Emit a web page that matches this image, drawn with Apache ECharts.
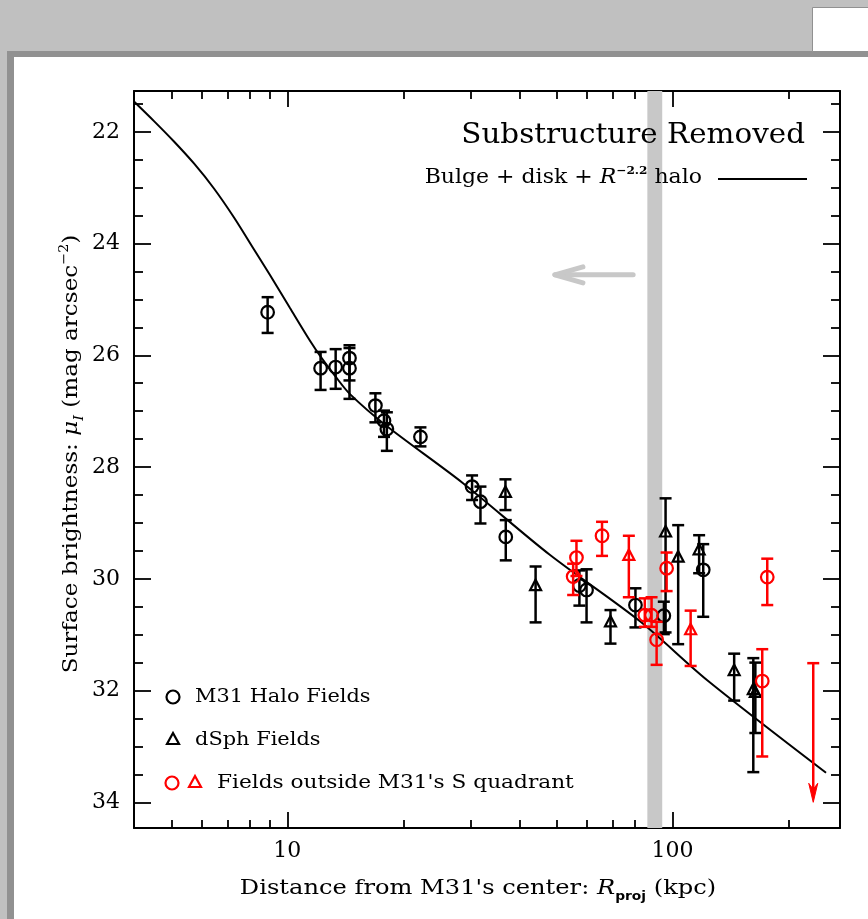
<!DOCTYPE html>
<html><head><meta charset="utf-8">
<script src="https://cdn.jsdelivr.net/npm/echarts@6/dist/echarts.min.js"></script>
<style>html,body{margin:0;padding:0;background:#fff}#c{width:868px;height:919px}</style>
</head><body><div id="c"></div><script>
// ---------------- data ----------------
const xRange = [4, 272];
const yRange = [21.27, 34.46];
const xMajorTicks = [10, 100];
const xMinorTicks = [5, 6, 7, 8, 9, 20, 30, 40, 50, 60, 70, 80, 90, 200];
const yMajorTicks = [22, 24, 26, 28, 30, 32, 34];
const yMinorTicks = [21.5, 22.5, 23, 23.5, 24.5, 25, 25.5, 26.5, 27, 27.5, 28.5, 29, 29.5, 30.5, 31, 31.5, 32.5, 33, 33.5];

// model curve: Bulge + disk + R^-2.2 halo
const modelR  = [4.0, 4.508, 5.08, 5.724, 6.451, 7.272, 8.196, 9.016, 10.162, 11.43, 12.28, 13.27, 14.52, 18.11, 28.53, 48.0, 82.3, 122.8, 250.2];
const modelMu = [21.458, 21.809, 22.174, 22.567, 23.015, 23.534, 24.107, 24.563, 25.154, 25.73, 26.05, 26.36, 26.69, 27.266, 28.285, 29.57, 30.76, 31.81, 33.47];

// M31 halo fields (black circles): R, mu, mu_bright, mu_faint
const haloR   = [8.89, 12.2, 13.35, 14.5, 14.5, 16.93, 17.82, 18.13, 22.16, 30.17, 31.72, 36.9, 57.3, 59.8, 80.1, 94.9, 120.1];
const haloMu  = [25.23, 26.23, 26.21, 26.05, 26.23, 26.90, 27.17, 27.32, 27.46, 28.35, 28.62, 29.25, 30.12, 30.20, 30.47, 30.66, 29.84];
const haloLo  = [24.96, 25.94, 25.89, 25.82, 25.87, 26.68, 26.99, 27.02, 27.29, 28.15, 28.35, 28.95, 29.85, 29.83, 30.17, 30.41, 29.38];
const haloHi  = [25.60, 26.62, 26.60, 26.45, 26.78, 27.20, 27.46, 27.71, 27.63, 28.59, 29.01, 29.67, 30.48, 30.78, 30.87, 30.99, 30.68];

// dSph fields (black triangles)
const dsphR   = [36.83, 44.1, 69.0, 95.9, 103.4, 117.2, 144.5, 162, 164];
const dsphMu  = [28.47, 30.14, 30.79, 29.18, 29.63, 29.50, 31.66, 32.00, 32.05];
const dsphLo  = [28.22, 29.78, 30.56, 28.56, 29.04, 29.22, 31.34, 31.42, 31.50];
const dsphHi  = [28.77, 30.78, 31.16, 30.96, 31.17, 29.90, 32.18, 33.46, 32.76];

// fields outside S quadrant: circles (red)
const outCR   = [56.3, 55.2, 65.6, 84.7, 88.2, 90.9, 96.5, 176.1, 170.9];
const outCMu  = [29.62, 29.96, 29.23, 30.65, 30.65, 31.09, 29.81, 29.97, 31.83];
const outCLo  = [29.32, 29.73, 28.98, 30.35, 30.33, 30.77, 29.53, 29.64, 31.26];
const outCHi  = [29.95, 30.29, 29.59, 30.86, 30.86, 31.54, 30.22, 30.47, 33.18];

// fields outside S quadrant: triangles (red)
const outTR   = [77.0, 111.4];
const outTMu  = [29.60, 30.93];
const outTLo  = [29.23, 30.57];
const outTHi  = [30.33, 31.56];

// upper limit (red arrow): R, mu top, mu arrow tip
const limR = [231.8];
const limTop = [31.51];
const limTip = [34.0];

// grey band and arrow
const bandR = [86, 94];
const arrowFrom = [79, 24.56];
const arrowTo = [49.5, 24.56];

// ---------------- chart ----------------
const FONT = '"DejaVu Serif", "Liberation Serif", serif';
const RED = '#ff0000', BLK = '#000000';
const G = {left: 134, top: 91, width: 706, height: 737};

function zip4(a, b, c, d) { return a.map((v, i) => [v, b[i], c[i], d[i]]); }

function errRender(color, shape) {
  return function (params, api) {
    const x = api.value(0), mu = api.value(1), lo = api.value(2), hi = api.value(3);
    const p = api.coord([x, mu]);
    const pt = api.coord([x, lo]);
    const pb = api.coord([x, hi]);
    const cw = 6;
    const ls = {stroke: color, lineWidth: 2.5};
    const ch = [
      {type: 'line', shape: {x1: p[0], y1: pt[1], x2: p[0], y2: pb[1]}, style: ls},
      {type: 'line', shape: {x1: p[0] - cw, y1: pt[1], x2: p[0] + cw, y2: pt[1]}, style: ls},
      {type: 'line', shape: {x1: p[0] - cw, y1: pb[1], x2: p[0] + cw, y2: pb[1]}, style: ls}
    ];
    if (shape === 'circle') {
      ch.push({type: 'circle', shape: {cx: p[0], cy: p[1], r: 6.3}, style: {fill: 'none', stroke: color, lineWidth: 2.2}});
    } else {
      ch.push({type: 'polygon', shape: {points: [[p[0], p[1] - 7], [p[0] - 5.5, p[1] + 3.5], [p[0] + 5.5, p[1] + 3.5]]},
        style: {fill: 'none', stroke: color, lineWidth: 2.2}});
    }
    return {type: 'group', children: ch};
  };
}

function axisX(pos, ticks, len, labels, line, gi) {
  return {
    type: 'log', logBase: 10, min: xRange[0], max: xRange[1], position: pos, gridIndex: gi,
    axisLine: {show: line, onZero: false, lineStyle: {color: BLK, width: 2}},
    axisTick: {show: true, inside: true, length: len, customValues: ticks, lineStyle: {color: BLK, width: 1.8}},
    axisLabel: labels ? {show: true, customValues: ticks, margin: 12, fontSize: 22, fontFamily: FONT, color: BLK,
      formatter: v => String(Math.round(v))} : {show: false},
    splitLine: {show: false}, minorTick: {show: false}
  };
}
function axisY(pos, ticks, len, labels, line, gi) {
  return {
    type: 'value', inverse: true, min: yRange[0], max: yRange[1], position: pos, gridIndex: gi,
    axisLine: {show: line, onZero: false, lineStyle: {color: BLK, width: 2}},
    axisTick: {show: true, inside: true, length: len, customValues: ticks, lineStyle: {color: BLK, width: 1.8}},
    axisLabel: labels ? {show: true, customValues: ticks, margin: 14, fontSize: 22, fontFamily: FONT, color: BLK,
      formatter: v => String(Math.round(v))} : {show: false},
    splitLine: {show: false}
  };
}

const xAxes = [
  axisX('bottom', xMajorTicks, 16, true, true, 0),
  axisX('top', xMajorTicks, 16, false, true, 0),
  axisX('bottom', xMinorTicks, 8, false, false, 1),
  axisX('top', xMinorTicks, 8, false, false, 1)
];
const yAxes = [
  axisY('left', yMajorTicks, 17, true, true, 0),
  axisY('right', yMajorTicks, 17, false, true, 0),
  axisY('left', yMinorTicks, 9, false, false, 1),
  axisY('right', yMinorTicks, 9, false, false, 1)
];

const chart = echarts.init(document.getElementById('c'), null, {renderer: 'canvas'});

const legendX = 173;
const option = {
  backgroundColor: '#ffffff',
  animation: false,
  grid: [Object.assign({}, G), Object.assign({}, G)],
  xAxis: xAxes,
  yAxis: yAxes,
  graphic: [
    {type: 'rect', shape: {x: 0, y: 0, width: 868, height: 51}, style: {fill: '#c0c0c0'}, z: 100},
    {type: 'rect', shape: {x: 0, y: 51, width: 7, height: 868}, style: {fill: '#c0c0c0'}, z: 100},
    {type: 'rect', shape: {x: 7, y: 51, width: 861, height: 6}, style: {fill: '#919191'}, z: 100},
    {type: 'rect', shape: {x: 7, y: 51, width: 7, height: 868}, style: {fill: '#919191'}, z: 100},
    {type: 'rect', shape: {x: 812.5, y: 7.5, width: 60, height: 44}, style: {fill: '#ffffff', stroke: '#919191', lineWidth: 1}, z: 101},
    // axis titles
    {type: 'text', x: 478, y: 889, scaleX: 1.15, z: 50, style: {text: "Distance from M31's center: {i|R}{sub|proj} (kpc)", font: '21px ' + FONT, fill: BLK,
      align: 'center', verticalAlign: 'middle', lineHeight: 28,
      rich: {i: {font: 'italic 21px ' + FONT, lineHeight: 28},
             sub: {font: 'bold 12px "DejaVu Sans", sans-serif', lineHeight: 14, verticalAlign: 'bottom'}}}},
    {type: 'text', x: 72, y: 454, scaleX: 1.1, rotation: Math.PI / 2, z: 50, style: {text: 'Surface brightness: {i|μ}{sub|I} (mag arcsec{sup|−2})', font: '21px ' + FONT, fill: BLK,
      align: 'center', verticalAlign: 'middle', lineHeight: 28,
      rich: {i: {font: 'italic 21px ' + FONT, lineHeight: 28},
             sub: {font: 'italic 13px ' + FONT, lineHeight: 18, verticalAlign: 'bottom'},
             sup: {font: '13px ' + FONT, lineHeight: 16, verticalAlign: 'top'}}}},
    // title texts
    {type: 'text', x: 805, y: 136, scaleX: 1.05, z: 50, style: {text: 'Substructure Removed', font: '28px ' + FONT, fill: BLK, align: 'right', verticalAlign: 'middle'}},
    {type: 'text', x: 702, y: 178, scaleX: 1.1, z: 50, style: {text: 'Bulge + disk + {i|R}{sup|−2.2} halo', font: '20px ' + FONT, fill: BLK, align: 'right', verticalAlign: 'middle', lineHeight: 24,
      rich: {i: {font: 'italic 20px ' + FONT, lineHeight: 24}, sup: {font: 'bold 11px ' + FONT, lineHeight: 14, verticalAlign: 'top'}}}},
    {type: 'line', z: 50, shape: {x1: 718, y1: 179, x2: 807, y2: 179}, style: {stroke: BLK, lineWidth: 2}},
    // legend
    {type: 'circle', z: 50, shape: {cx: legendX, cy: 697, r: 6.5}, style: {fill: 'none', stroke: BLK, lineWidth: 2.2}},
    {type: 'text', z: 50, x: 195, y: 697, scaleX: 1.1, style: {text: 'M31 Halo Fields', font: '19px ' + FONT, fill: BLK, verticalAlign: 'middle'}},
    {type: 'polygon', z: 50, shape: {points: [[legendX, 733], [legendX - 6, 744], [legendX + 6, 744]]}, style: {fill: 'none', stroke: BLK, lineWidth: 2.2}},
    {type: 'text', z: 50, x: 195, y: 740, scaleX: 1.1, style: {text: 'dSph Fields', font: '19px ' + FONT, fill: BLK, verticalAlign: 'middle'}},
    {type: 'circle', z: 50, shape: {cx: 172, cy: 783, r: 6.5}, style: {fill: 'none', stroke: RED, lineWidth: 2.2}},
    {type: 'polygon', z: 50, shape: {points: [[195, 776], [189, 787], [201, 787]]}, style: {fill: 'none', stroke: RED, lineWidth: 2.2}},
    {type: 'text', z: 50, x: 217, y: 783, scaleX: 1.14, style: {text: "Fields outside M31's S quadrant", font: '19px ' + FONT, fill: BLK, verticalAlign: 'middle'}}
  ],
  series: [
    {
      type: 'line', name: 'model', xAxisIndex: 0, yAxisIndex: 0, z: 3,
      data: modelR.map((r, i) => [r, modelMu[i]]),
      showSymbol: false, smooth: 0.3, clip: true,
      lineStyle: {color: BLK, width: 2},
      markArea: {silent: true, itemStyle: {color: '#c8c8c8'}, data: [[{xAxis: bandR[0]}, {xAxis: bandR[1]}]], z: 1}
    },
    {
      type: 'custom', name: 'arrow', xAxisIndex: 0, yAxisIndex: 0, z: 2,
      data: [[arrowFrom[0], arrowFrom[1], arrowTo[0], arrowTo[1]]],
      renderItem: function (params, api) {
        const a = api.coord([api.value(0), api.value(1)]);
        const b = api.coord([api.value(2), api.value(3)]);
        const st = {stroke: '#c8c8c8', lineWidth: 5, lineCap: 'round', lineJoin: 'round', fill: 'none'};
        return {type: 'group', children: [
          {type: 'line', shape: {x1: a[0], y1: a[1], x2: b[0], y2: b[1]}, style: st},
          {type: 'polyline', shape: {points: [[b[0] + 28, b[1] - 8], [b[0], b[1]], [b[0] + 28, b[1] + 8]]}, style: st}
        ]};
      }
    },
    {type: 'custom', name: 'halo', xAxisIndex: 0, yAxisIndex: 0, z: 5, data: zip4(haloR, haloMu, haloLo, haloHi), renderItem: errRender(BLK, 'circle')},
    {type: 'custom', name: 'dsph', xAxisIndex: 0, yAxisIndex: 0, z: 5, data: zip4(dsphR, dsphMu, dsphLo, dsphHi), renderItem: errRender(BLK, 'tri')},
    {type: 'custom', name: 'outC', xAxisIndex: 0, yAxisIndex: 0, z: 6, data: zip4(outCR, outCMu, outCLo, outCHi), renderItem: errRender(RED, 'circle')},
    {type: 'custom', name: 'outT', xAxisIndex: 0, yAxisIndex: 0, z: 6, data: zip4(outTR, outTMu, outTLo, outTHi), renderItem: errRender(RED, 'tri')},
    {
      type: 'custom', name: 'limit', xAxisIndex: 0, yAxisIndex: 0, z: 6,
      data: limR.map((r, i) => [r, limTop[i], limTip[i]]),
      renderItem: function (params, api) {
        const t = api.coord([api.value(0), api.value(1)]);
        const b = api.coord([api.value(0), api.value(2)]);
        const ls = {stroke: RED, lineWidth: 2.5};
        return {type: 'group', children: [
          {type: 'line', shape: {x1: t[0], y1: t[1], x2: t[0], y2: b[1] - 10}, style: ls},
          {type: 'line', shape: {x1: t[0] - 6, y1: t[1], x2: t[0] + 6, y2: t[1]}, style: ls},
          {type: 'polygon', shape: {points: [[t[0], b[1]], [t[0] - 4.5, b[1] - 19], [t[0], b[1] - 13], [t[0] + 4.5, b[1] - 19]]}, style: {fill: RED, stroke: RED, lineWidth: 1}}
        ]};
      }
    }
  ]
};
chart.setOption(option);
</script></body></html>
